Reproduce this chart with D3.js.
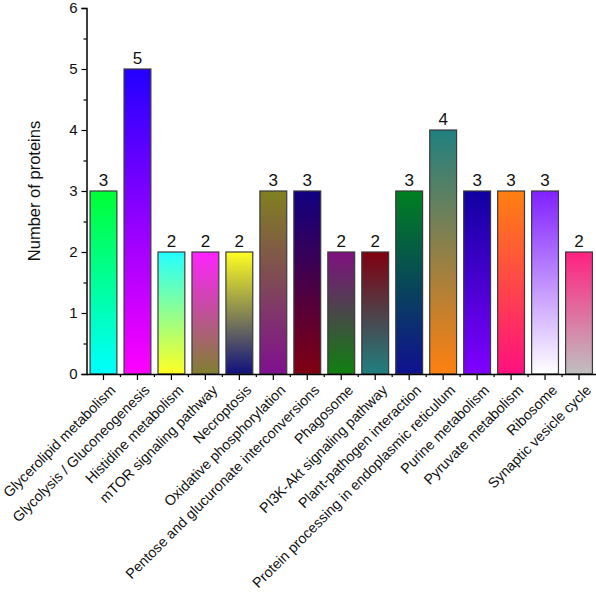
<!DOCTYPE html>
<html><head><meta charset="utf-8">
<script src="https://cdn.jsdelivr.net/npm/d3@7/dist/d3.min.js"></script>
<style>body{margin:0;background:#fff}svg{display:block;font-family:Arial,"Liberation Sans",sans-serif}</style>
</head><body>
<svg id="chart" width="596" height="593"></svg>
<script>
const categories = ["Glycerolipid metabolism","Glycolysis / Gluconeogenesis","Histidine metabolism","mTOR signaling pathway","Necroptosis","Oxidative phosphorylation","Pentose and glucuronate interconversions","Phagosome","PI3K-Akt signaling pathway","Plant-pathogen interaction","Protein processing in endoplasmic reticulum","Purine metabolism","Pyruvate metabolism","Ribosome","Synaptic vesicle cycle"];
const values = [3,5,2,2,2,3,3,2,2,3,4,3,3,3,2];
const topColors = ["#00ff33","#2200ff","#22ffff","#ff22ff","#ffff22","#808020","#100080","#801080","#800010","#008020","#208080","#1000a0","#ff8010","#8020ff","#ff2080"];
const bottomColors = ["#00ffff","#ff00ff","#ffff22","#808030","#101080","#801090","#800010","#108010","#208080","#101090","#ff8010","#8000ff","#ff1080","#ffffff","#c0c0c0"];
const yTicks = [0,1,2,3,4,5,6];
const yTitle = "Number of proteins";

const svg = d3.select("#chart");
const m = {left:86.5, right:596, top:8, bottom:374};
const x = d3.scaleBand().domain(categories).range([m.left, m.right]).paddingInner(0.21).paddingOuter(0.105);
const y = d3.scaleLinear().domain([0,6]).range([m.bottom, m.top]);

const defs = svg.append("defs");
categories.forEach((c,i)=>{
  const g = defs.append("linearGradient").attr("id","g"+i).attr("x1",0).attr("y1",0).attr("x2",0).attr("y2",1);
  g.append("stop").attr("offset","0%").attr("stop-color",topColors[i]);
  g.append("stop").attr("offset","100%").attr("stop-color",bottomColors[i]);
});

svg.append("g").selectAll("rect").data(categories).join("rect")
  .attr("x",d=>x(d)).attr("width",x.bandwidth())
  .attr("y",(d,i)=>y(values[i])).attr("height",(d,i)=>y(0)-y(values[i]))
  .attr("fill",(d,i)=>`url(#g${i})`).attr("stroke","#3a3a3a").attr("stroke-width",1.2);

svg.append("g").selectAll("text").data(categories).join("text")
  .attr("x",d=>x(d)+x.bandwidth()/2).attr("y",(d,i)=>y(values[i])-5)
  .attr("text-anchor","middle").attr("font-size",17).attr("fill","#111")
  .text((d,i)=>values[i]);

// Y axis
const yAxis = svg.append("g").attr("transform",`translate(${m.left},0)`)
  .call(d3.axisLeft(y).tickValues(yTicks).tickFormat(d3.format("d")).tickSize(5).tickPadding(4));
yAxis.selectAll("text").attr("font-size",15).attr("fill","#111");
svg.append("g").attr("transform",`translate(${m.left},0)`)
  .call(d3.axisLeft(y).tickValues([0.5,1.5,2.5,3.5,4.5,5.5]).tickFormat("").tickSize(3))
  .select(".domain").remove();

// X axis
const xAxis = svg.append("g").attr("transform",`translate(0,${m.bottom})`)
  .call(d3.axisBottom(x).tickSize(6).tickSizeOuter(0).tickFormat(""));
const minorX = categories.slice(0,-1).map(c=>x(c)+x.step()-(x.step()-x.bandwidth())/2);
svg.append("g").selectAll("line").data(minorX).join("line")
  .attr("x1",d=>d).attr("x2",d=>d).attr("y1",m.bottom).attr("y2",m.bottom+3)
  .attr("stroke","#000").attr("stroke-width",1.2);
svg.selectAll(".domain").attr("stroke","#000").attr("stroke-width",1.5);
svg.selectAll(".tick line").attr("stroke","#000").attr("stroke-width",1.2);

svg.append("g").selectAll("text").data(categories).join("text")
  .attr("transform",d=>`translate(${x(d)+x.bandwidth()/2+13},${m.bottom+17}) rotate(-45)`)
  .attr("text-anchor","end").attr("font-size",14.3).attr("fill","#111")
  .text(d=>d);

svg.append("text").attr("transform",`translate(40,${(m.top+m.bottom)/2}) rotate(-90)`)
  .attr("text-anchor","middle").attr("font-size",16.5).attr("fill","#111").text(yTitle);
</script>
</body></html>
